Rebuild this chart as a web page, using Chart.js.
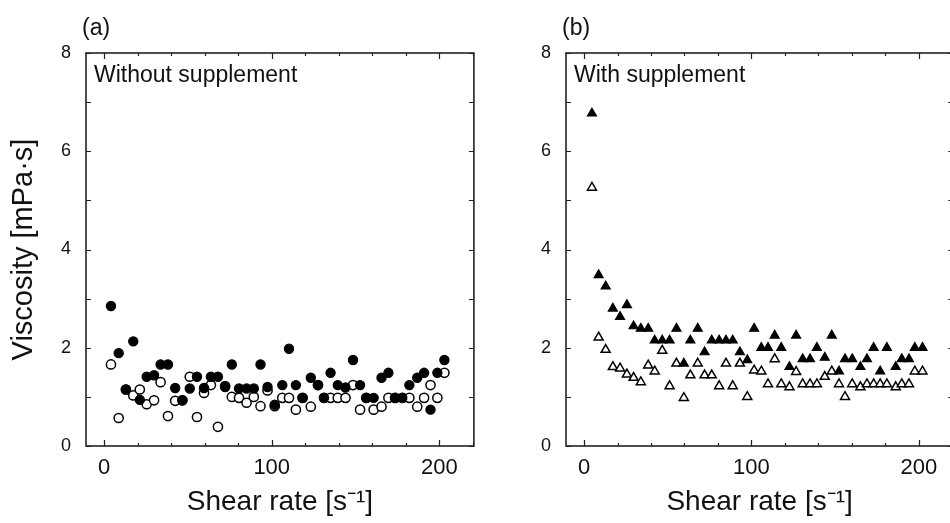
<!DOCTYPE html>
<html><head><meta charset="utf-8">
<script src="https://cdn.jsdelivr.net/npm/chart.js@4.4.1/dist/chart.umd.min.js"></script>
<style>
html,body{margin:0;padding:0;background:#fff;overflow:hidden;width:950px;height:523px;}
#wrap{position:relative;width:950px;height:523px;overflow:hidden;background:#fff;}
canvas{position:absolute;top:0;}
</style></head><body>
<div id="wrap">
<canvas id="ca" width="480" height="523" style="left:0"></canvas>
<canvas id="cb" width="480" height="523" style="left:480px"></canvas>
</div>
<script>
// ---- data ----
const shearA = [4.1, 8.7, 13, 17.4, 21.3, 25.4, 29.8, 33.7, 38.1, 42.4, 46.7, 51.1, 55.4, 59.6, 63.7, 67.9, 72.2, 76.2, 80.5, 85, 89.3, 93.3, 97.5, 101.8, 106.3, 110.3, 114.4, 118.4, 123.3, 127.6, 131.2, 135.1, 139.4, 144, 148.5, 152.7, 156.4, 160.8, 165.5, 169.6, 173.6, 177.9, 182.1, 186.8, 190.9, 194.7, 198.8, 203];
const viscAFilled = [2.85, 1.89, 1.15, 2.13, 0.94, 1.41, 1.44, 1.66, 1.66, 1.18, 0.93, 1.17, 1.41, 1.18, 1.41, 1.41, 1.2, 1.66, 1.17, 1.17, 1.17, 1.66, 1.2, 0.84, 1.24, 1.98, 1.24, 0.98, 1.39, 1.24, 0.98, 1.49, 1.24, 1.19, 1.75, 1.24, 0.98, 0.98, 1.39, 1.49, 0.98, 0.98, 1.24, 1.39, 1.49, 0.74, 1.49, 1.75];
const viscAOpen = [1.66, 0.57, 1.15, 1.03, 1.15, 0.85, 0.93, 1.3, 0.61, 0.92, 0.93, 1.41, 0.59, 1.08, 1.24, 0.39, 1.22, 1.0, 0.98, 0.88, 1.0, 0.81, 1.13, 0.81, 0.98, 0.98, 0.74, 0.98, 0.8, 1.24, 0.98, 0.98, 0.98, 0.98, 1.24, 0.74, 0.98, 0.74, 0.8, 0.98, 0.98, 0.98, 0.98, 0.8, 0.98, 1.24, 0.98, 1.49];

const shearB = [4.7, 8.7, 12.9, 17.2, 21.5, 25.6, 29.6, 33.9, 38.3, 42.2, 46.7, 51.1, 55.2, 59.6, 63.5, 67.9, 72, 76.3, 80.7, 84.8, 88.8, 93.1, 97.5, 101.6, 105.9, 109.9, 113.9, 117.8, 122.7, 126.7, 130.6, 135, 139.1, 143.8, 148, 152.3, 155.9, 160.2, 165.1, 169, 173, 176.9, 180.9, 186.2, 189.8, 194.1, 197.6, 202.2];
const viscBFilled = [6.77, 3.48, 3.25, 2.8, 2.63, 2.87, 2.44, 2.39, 2.39, 2.15, 2.15, 2.15, 2.39, 1.68, 2.15, 2.39, 1.91, 2.15, 2.15, 2.15, 2.15, 1.91, 1.75, 2.39, 2.0, 2.0, 2.25, 2.0, 1.61, 2.25, 1.77, 1.77, 2.0, 1.8, 2.25, 1.52, 1.77, 1.77, 1.61, 1.77, 2.0, 1.52, 2.0, 1.61, 1.77, 1.77, 2.0, 2.0];
const viscBOpen = [5.26, 2.21, 1.96, 1.61, 1.58, 1.46, 1.39, 1.3, 1.64, 1.52, 1.94, 1.22, 1.68, 0.98, 1.44, 1.68, 1.44, 1.44, 1.22, 1.68, 1.22, 1.68, 1.0, 1.54, 1.52, 1.26, 1.77, 1.26, 1.2, 1.51, 1.26, 1.26, 1.26, 1.41, 1.52, 1.26, 1.0, 1.26, 1.2, 1.26, 1.26, 1.26, 1.26, 1.2, 1.26, 1.26, 1.52, 1.52];

const xTitle = 'Shear rate [s\u207B\u00B9]';
const yTitle = 'Viscosity [mPa\u00B7s]';
const panelLabels = ['(a)', '(b)'];
const insetLabels = ['Without supplement', 'With supplement'];

const FONT = '"Liberation Sans", Arial, Helvetica, sans-serif';
const INK = '#111';

function pts(xs, ys){ return xs.map((x,i)=>({x:x, y:ys[i]})); }

const framePlugin = {
  id: 'frame',
  afterDatasetsDraw(chart, args, o){
    const ctx = chart.ctx, a = chart.chartArea, xs = chart.scales.x, ys = chart.scales.y;
    ctx.save();
    ctx.strokeStyle = '#222';
    ctx.lineWidth = 1.2;
    ctx.beginPath();
    xs.ticks.forEach(t=>{
      const px = Math.round(xs.getPixelForValue(t.value)) + 0.5;
      const len = (t.value % 100 === 0) ? 6 : 3;
      ctx.moveTo(px, a.bottom); ctx.lineTo(px, a.bottom - len);
      ctx.moveTo(px, a.top); ctx.lineTo(px, a.top + len);
    });
    ys.ticks.forEach(t=>{
      const py = Math.round(ys.getPixelForValue(t.value)) + 0.5;
      ctx.moveTo(a.left, py); ctx.lineTo(a.left + 5, py);
      ctx.moveTo(a.right, py); ctx.lineTo(a.right - 5, py);
    });
    ctx.stroke();
    ctx.lineWidth = 1.6;
    ctx.strokeRect(a.left, a.top, a.right - a.left, a.bottom - a.top);
    ctx.fillStyle = INK;
    ctx.textBaseline = 'alphabetic';
    ctx.textAlign = 'left';
    ctx.font = '23px ' + FONT;
    ctx.fillText(o.panel, a.left - 4, 35);
    ctx.font = '23px ' + FONT;
    ctx.fillText(o.inset, a.left + 8, 82);
    ctx.restore();
  }
};

function makeChart(id, xsArr, filled, open, style, idx, showYTitle){
  return new Chart(document.getElementById(id), {
    type: 'scatter',
    data: { datasets: [
      { data: pts(xsArr, filled), pointStyle: style, radius: style === 'triangle' ? 5.2 : 4.6,
        backgroundColor: '#000', borderColor: '#000', borderWidth: 1.2 },
      { data: pts(xsArr, open), pointStyle: style, radius: style === 'triangle' ? 5.2 : 4.6,
        backgroundColor: '#fff', borderColor: '#000', borderWidth: 1.5 }
    ]},
    options: {
      responsive: false, animation: false,
      layout: { padding: { top: 53, right: 0, bottom: 0, left: 0 } },
      plugins: { legend: { display: false }, tooltip: { enabled: false },
        frame: { panel: panelLabels[idx], inset: insetLabels[idx] } },
      scales: {
        x: { type: 'linear', min: -10.8, max: 220.6,
          grid: { display: false, drawTicks: false }, border: { display: false },
          ticks: { stepSize: 20, includeBounds: false, autoSkip: false, maxRotation: 0,
            callback: v => (Math.abs(v % 100) < 1e-9 ? String(v) : ''),
            font: { size: 22, family: FONT }, color: INK, padding: 9 },
          title: { display: true, text: xTitle, font: { size: 28, family: FONT }, color: INK,
            padding: { top: 0, bottom: 4 } },
          afterFit: s => { s.height = 77; s.paddingLeft = 0; s.paddingRight = 0; }
        },
        y: { min: 0, max: 8,
          grid: { display: false, drawTicks: false }, border: { display: false },
          ticks: { stepSize: 1, includeBounds: false, autoSkip: false,
            callback: v => (v % 2 === 0 ? String(v) : ''),
            font: { size: 18, family: FONT }, color: INK, padding: 15 },
          title: { display: showYTitle, text: yTitle, font: { size: 29, family: FONT }, color: INK,
            padding: { top: 7, bottom: 0 } },
          afterFit: s => { s.width = 86; }
        }
      }
    },
    plugins: [framePlugin]
  });
}

makeChart('ca', shearA, viscAFilled, viscAOpen, 'circle', 0, true);
makeChart('cb', shearB, viscBFilled, viscBOpen, 'triangle', 1, false);
</script>
</body></html>
